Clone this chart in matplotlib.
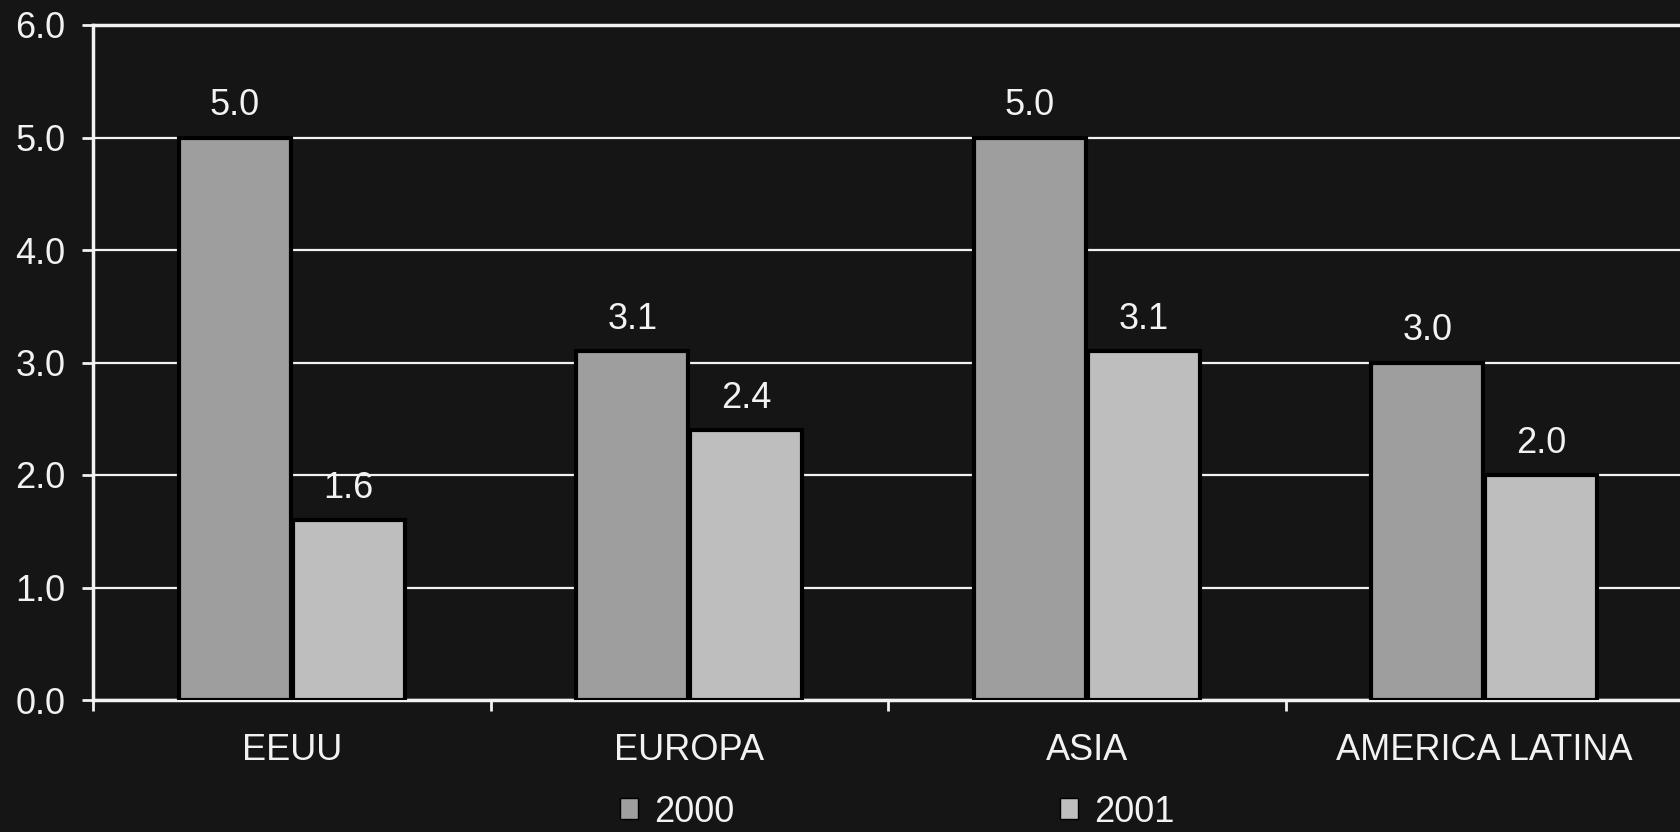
import matplotlib
matplotlib.use("Agg")
import matplotlib.pyplot as plt
import numpy as np
from matplotlib.ticker import FixedLocator, NullFormatter

# Growth by region, 2000 vs 2001
regions = ["EEUU", "EUROPA", "ASIA", "AMERICA LATINA"]
years = ["2000", "2001"]
values_2000 = [5.0, 3.1, 5.0, 3.0]
values_2001 = [1.6, 2.4, 3.1, 2.0]
y_ticks = [0.0, 1.0, 2.0, 3.0, 4.0, 5.0, 6.0]

BG = "#151515"
FG = "#f2f2f2"
COL_2000 = "#9e9e9e"
COL_2001 = "#bebebe"
FS = 26

plt.rcParams["font.family"] = ["Liberation Sans", "DejaVu Sans"]

fig = plt.figure(figsize=(16.8, 8.32), dpi=100, facecolor=BG)
ax = fig.add_axes([93 / 1680, 132 / 832, 1590 / 1680, 675 / 832], facecolor=BG)

x = np.arange(len(regions))
w = 0.282
off = 0.143
b1 = ax.bar(x - off, values_2000, w, color=COL_2000, edgecolor="black",
            linewidth=3, zorder=3, label=years[0])
b2 = ax.bar(x + off, values_2001, w, color=COL_2001, edgecolor="black",
            linewidth=3, zorder=3, label=years[1])

for bars, vals in ((b1, values_2000), (b2, values_2001)):
    for rect, v in zip(bars, vals):
        ax.annotate(f"{v:.1f}", (rect.get_x() + rect.get_width() / 2, v),
                    xytext=(0, 16), textcoords="offset points",
                    ha="center", va="baseline", fontsize=FS, color=FG,
                    zorder=4)

ax.set_xlim(-0.5, len(regions) - 0.5)
ax.set_ylim(0, 6)
ax.set_yticks(y_ticks)
ax.set_yticklabels([f"{t:.1f}" for t in y_ticks])
ax.yaxis.grid(True, color=FG, linewidth=1.6, zorder=1)
ax.set_axisbelow(True)

ax.set_xticks(x)
ax.set_xticklabels(regions)
ax.xaxis.set_minor_locator(FixedLocator(np.arange(-0.5, len(regions), 1.0)))
ax.xaxis.set_minor_formatter(NullFormatter())

ax.tick_params(axis="x", which="major", length=0, pad=24, labelsize=FS,
               labelcolor=FG)
ax.tick_params(axis="x", which="minor", length=8, width=2, color=FG,
               direction="out")
ax.tick_params(axis="y", length=8, width=2, color=FG, pad=12, labelsize=FS,
               labelcolor=FG, direction="out")

for side in ("left", "bottom", "top"):
    ax.spines[side].set_color(FG)
    ax.spines[side].set_linewidth(2.5)
ax.spines["right"].set_visible(False)

leg = fig.legend(handles=[b1, b2], labels=years, loc="center",
                 bbox_to_anchor=(0.534, 0.024), ncol=2, frameon=False,
                 fontsize=FS, labelcolor=FG, handlelength=0.5,
                 handleheight=0.5, handletextpad=0.45, columnspacing=9.0,
                 borderpad=0.1)
for h in leg.legend_handles:
    h.set_linewidth(1)

fig.savefig("out.png", dpi=100, facecolor=BG)
